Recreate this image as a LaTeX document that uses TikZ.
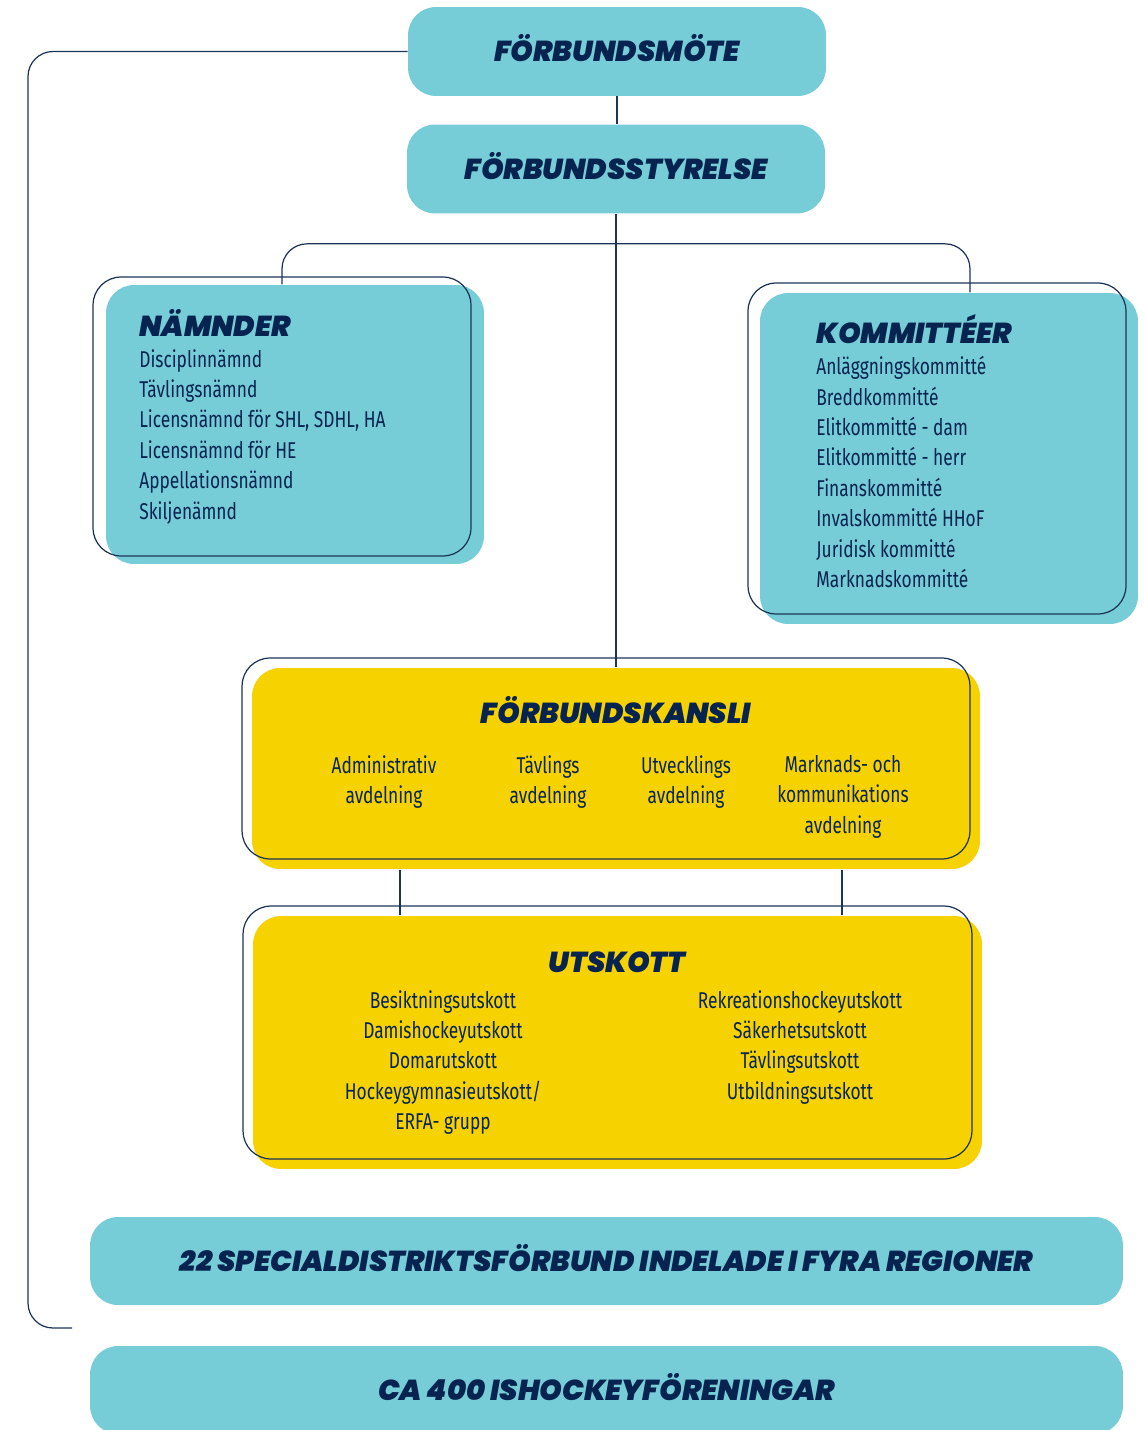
\documentclass[tikz,border=0pt]{standalone}
\usepackage{fontspec}
\setmainfont{Fira Sans}[FakeStretch=0.76]
\newfontfamily\headfont{Poppins}[UprightFont={* Black Italic}]
\usetikzlibrary{positioning,shadows,calc}
\definecolor{hockeyteal}{HTML}{76CDD8}
\definecolor{hockeyyellow}{HTML}{F6D200}
\definecolor{hockeynavy}{HTML}{06244F}
\definecolor{linenavy}{HTML}{1C3557}

\tikzset{link/.style={draw=linenavy,line width=0.7pt}}
\tikzset{headtext/.style={font=\headfont\fontsize{16.4}{19}\selectfont,text=hockeynavy,inner sep=0}}
\tikzset{listtext/.style={font=\fontsize{13}{17.3}\selectfont,text=hockeynavy,inner sep=0}}
\tikzset{topbox/.style={fill=hockeyteal,rounded corners=0.56cm,inner sep=0,headtext,
    text height=11.4pt,text depth=0pt,minimum width=8.36cm,minimum height=1.78cm}}
\tikzset{groupbox/.style n args={3}{draw=linenavy,line width=0.7pt,rounded corners=0.56cm,inner sep=0,
    general shadow={fill=#1,shadow xshift=#2,shadow yshift=#3}}}

\begin{document}
\begin{tikzpicture}[x=0.02cm,y=-0.02cm]
\useasboundingbox (0,0) rectangle (1145,1430);
% top
\node[topbox] (moete) at (617,51.5) {FÖRBUNDSMÖTE};
\node[topbox] (styrelse) at (616,169) {FÖRBUNDSSTYRELSE};
% groups
\node[groupbox={hockeyteal}{0.26cm}{-0.16cm},minimum width=7.56cm,minimum height=5.58cm]
    (naemnder) at (282,416.5) {};
\node[groupbox={hockeyteal}{0.24cm}{-0.2cm},minimum width=7.56cm,minimum height=6.62cm]
    (kommitteer) at (937,448.5) {};
\node[groupbox={hockeyyellow}{0.2cm}{-0.2cm},minimum width=14.56cm,minimum height=4.02cm]
    (kansli) at (606,758.5) {};
\node[groupbox={hockeyyellow}{0.2cm}{-0.2cm},minimum width=14.58cm,minimum height=5.06cm]
    (utskott) at (607.5,1032.5) {};
% bottom
\node[topbox,minimum width=20.66cm,minimum height=1.76cm] (distrikt) at (606.5,1261)
    {22 SPECIALDISTRIKTSFÖRBUND INDELADE I FYRA REGIONER};
\node[topbox,minimum width=20.66cm,minimum height=1.76cm] (foreningar) at (606.5,1390)
    {CA 400 ISHOCKEYFÖRENINGAR};

% texts
\node[headtext,anchor=base west] (naemndertitle) at (139,336) {NÄMNDER};
\node[listtext,align=left,anchor=north west] (naemnderlist) at (139,349)
    {Disciplinnämnd\\Tävlingsnämnd\\Licensnämnd för SHL, SDHL, HA\\Licensnämnd för HE\\Appellationsnämnd\\Skiljenämnd};
\node[headtext,anchor=base west] (kommitteertitle) at (816,343) {KOMMITTÉER};
\node[listtext,align=left,anchor=north west] (kommitteerlist) at (816,356)
    {Anläggningskommitté\\Breddkommitté\\Elitkommitté - dam\\Elitkommitté - herr\\Finanskommitté\\Invalskommitté HHoF\\Juridisk kommitté\\Marknadskommitté};
\node[headtext,anchor=base] (kanslititle) at (616,723) {FÖRBUNDSKANSLI};
\node[listtext,align=center,anchor=north] (adm) at (384,755) {Administrativ\\avdelning};
\node[listtext,align=center,anchor=north] (tavl) at (548,755) {Tävlings\\avdelning};
\node[listtext,align=center,anchor=north] (utv) at (686,755) {Utvecklings\\avdelning};
\node[listtext,align=center,anchor=north] (mark) at (843,755) {Marknads- och\\kommunikations\\avdelning};
\node[headtext,anchor=base] (utskotttitle) at (617,972) {UTSKOTT};
\node[listtext,align=center,anchor=north] (utskottleft) at (443,990)
    {Besiktningsutskott\\Damishockeyutskott\\Domarutskott\\Hockeygymnasieutskott/\\ERFA- grupp};
\node[listtext,align=center,anchor=north] (utskottright) at (800,990)
    {Rekreationshockeyutskott\\Säkerhetsutskott\\Tävlingsutskott\\Utbildningsutskott};

% connectors
\coordinate (split) at ($(styrelse.south)+(0,30)$);
\coordinate (kanslitop) at ($(kansli.north)+(0,10)$);
\coordinate (utskotttop) at ($(utskott.north)+(0,10)$);
\coordinate (admleg) at ($(kansli.south)+(-206,10)$);
\coordinate (markleg) at ($(kansli.south)+(236,10)$);
\coordinate (loopcorner) at (28,1328);
\coordinate (loopend) at (72,1328);
\draw[link] (moete.south) -- (moete.south |- styrelse.north);
\draw[link] (styrelse.south) -- (styrelse.south |- kanslitop);
\draw[link,rounded corners=0.5cm] ($(naemnder.north)+(0,8)$) |- (split) -| ($(kommitteer.north)+(33,10)$);
\draw[link] (admleg) -- (admleg |- utskotttop);
\draw[link] (markleg) -- (markleg |- utskotttop);
\draw[link,rounded corners=0.5cm] (moete.west) -| (loopcorner) -- (loopend);
\end{tikzpicture}
\end{document}
